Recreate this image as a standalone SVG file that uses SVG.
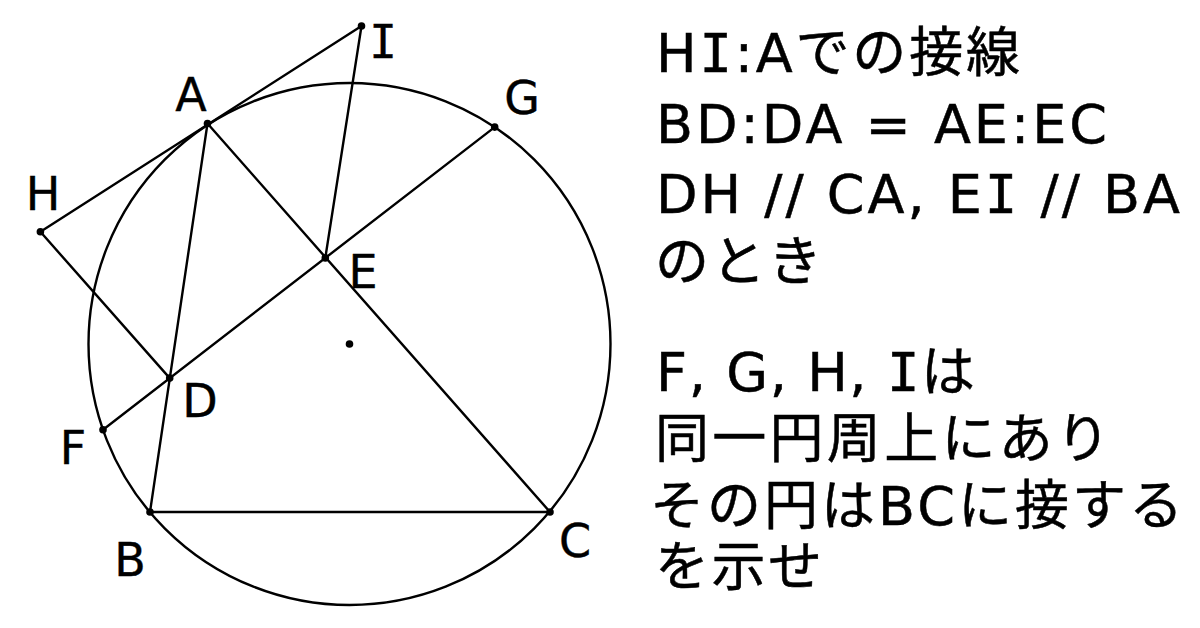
<svg xmlns="http://www.w3.org/2000/svg" width="1200" height="628" viewBox="0 0 1200 628">
<style>
.ln{stroke:#000;stroke-width:2.4;fill:none;stroke-linecap:round}
.pt{fill:#000}
.lbl{font-family:"DejaVu Sans","Noto Sans CJK JP",sans-serif;font-size:46px;fill:#000;stroke:#000;stroke-width:0.4;text-anchor:middle}
.txt{font-family:"DejaVu Sans","Noto Sans CJK JP",sans-serif;font-size:54px;fill:#000;stroke:#000;stroke-width:0.5}
.mi{font-family:"DejaVu Sans Mono",monospace}
</style>
<rect width="1200" height="628" fill="#fff"/>
<g id="circle"><circle class="ln" cx="349.5" cy="344" r="261"/><circle class="pt" cx="349.5" cy="344" r="3.8"/></g>
<g id="connectors">
<line class="ln" x1="40.4" y1="231.8" x2="361.5" y2="26"/>
<line class="ln" x1="207.5" y1="123.5" x2="150" y2="512"/>
<line class="ln" x1="207.5" y1="123.5" x2="550" y2="512"/>
<line class="ln" x1="150" y1="512" x2="550" y2="512"/>
<line class="ln" x1="103" y1="429.7" x2="494.7" y2="127.1"/>
<line class="ln" x1="40.4" y1="231.8" x2="169.7" y2="378.1"/>
<line class="ln" x1="325.3" y1="257.9" x2="361.5" y2="26"/>
</g>
<g id="A"><circle class="pt" cx="207.5" cy="123.5" r="3.8"/><text class="lbl" x="191" y="111">A</text></g>
<g id="B"><circle class="pt" cx="150" cy="512" r="3.8"/><text class="lbl" x="130" y="576">B</text></g>
<g id="C"><circle class="pt" cx="550" cy="512" r="3.8"/><text class="lbl" x="575" y="557">C</text></g>
<g id="D"><circle class="pt" cx="169.7" cy="378.1" r="3.8"/><text class="lbl" x="200" y="417">D</text></g>
<g id="E"><circle class="pt" cx="325.3" cy="257.9" r="3.8"/><text class="lbl" x="363" y="288">E</text></g>
<g id="F"><circle class="pt" cx="103" cy="429.7" r="3.8"/><text class="lbl" x="73" y="464">F</text></g>
<g id="G"><circle class="pt" cx="494.7" cy="127.1" r="3.8"/><text class="lbl" x="522" y="114">G</text></g>
<g id="H"><circle class="pt" cx="40.4" cy="231.8" r="3.8"/><text class="lbl" x="43" y="210">H</text></g>
<g id="I"><circle class="pt" cx="361.5" cy="26" r="3.8"/><text class="lbl mi" x="383" y="58">I</text></g>
<g id="statement">
<text class="txt" x="656" y="72" textLength="364" lengthAdjust="spacing">H<tspan class="mi">I</tspan>:Aでの接線</text>
<text class="txt" x="656" y="143" textLength="451" lengthAdjust="spacing">BD:DA = AE:EC</text>
<text class="txt" x="656" y="213" textLength="524" lengthAdjust="spacing">DH // CA, E<tspan class="mi">I</tspan> // BA</text>
<text class="txt" x="655" y="281" textLength="167" lengthAdjust="spacing">のとき</text>
<text class="txt" x="656" y="391" textLength="319" lengthAdjust="spacing">F, G, H, <tspan class="mi">I</tspan>は</text>
<text class="txt" x="655" y="458" textLength="455" lengthAdjust="spacing">同一円周上にあり</text>
<text class="txt" x="650" y="525" textLength="533" lengthAdjust="spacing">その円はBCに接する</text>
<text class="txt" x="655" y="586" textLength="167" lengthAdjust="spacing">を示せ</text>
</g>
</svg>
